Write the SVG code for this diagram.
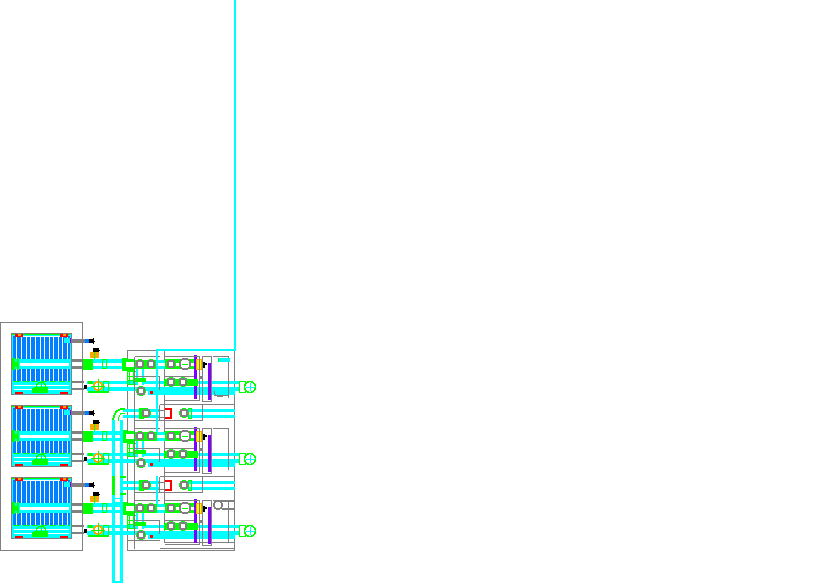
<svg xmlns="http://www.w3.org/2000/svg" width="824" height="583" viewBox="0 0 824 583" shape-rendering="crispEdges">
<style>
.g{fill:none;stroke:#808080;stroke-width:1}
.g2{fill:none;stroke:#808080;stroke-width:1}
.c{fill:#00ffff;stroke:none}
.cl{fill:none;stroke:#00ffff;stroke-width:2}
.gr{fill:#00ff00;stroke:none}
.gl{fill:none;stroke:#00ff00;stroke-width:1}
.w{fill:#fff;stroke:none}
.b{fill:#0080ff;stroke:none}
.p{fill:#7f00ff;stroke:none}
.k{fill:#000;stroke:none}
.r{fill:#ff0000;stroke:none}
</style>
<defs>
<g id="ringG"><circle r="5" fill="#00ff00"/><circle r="3.500" fill="#fff" stroke="#808080" stroke-width="2"/></g>
<g id="ringBig"><circle r="5.500" fill="#fff" stroke="#808080" stroke-width="2"/><path d="M-3 0H3" stroke="#00ff00"/></g>
<g id="ringO"><circle r="4" fill="#fff" stroke="#ffa500" stroke-width="2"/><path d="M0-7V7M-7 0H7" stroke="#00ff00" stroke-width="1" fill="none"/></g>
<g id="ringL"><circle r="4.500" fill="none" stroke="#00ff00" stroke-width="1.500"/><path d="M0-7V7M-7 0H7" stroke="#00ff00" stroke-width="1" fill="none"/></g>
<g id="end"><rect x="-10.500" y="-5.500" width="6" height="11" fill="#fff" stroke="#00ff00"/><circle r="5.500" fill="#fff" stroke="#00ff00" stroke-width="1.500"/><path d="M-4 0H5M0-4V4" stroke="#00ffff" stroke-width="1" fill="none"/></g>
<g id="radiator">
<rect x="11" y="333" width="61" height="62" fill="#00ffff"/>
<rect x="13" y="336" width="57" height="46" class="w"/>
<g class="b">
<rect x="13" y="336" width="3" height="46"/><rect x="17" y="336" width="4" height="46"/>
<rect x="22" y="337" width="4" height="45"/><rect x="27" y="337" width="3" height="45"/>
<rect x="31" y="337" width="4" height="45"/><rect x="36" y="337" width="4" height="45"/>
<rect x="41" y="337" width="3" height="45"/><rect x="45" y="337" width="4" height="45"/>
<rect x="50" y="337" width="3" height="45"/><rect x="54" y="337" width="4" height="45"/>
<rect x="59" y="337" width="3" height="45"/><rect x="63" y="336" width="4" height="46"/><rect x="68" y="336" width="2" height="46"/>
</g>
<rect x="12" y="359" width="59" height="10" class="c"/>
<rect x="20" y="363" width="49" height="3" class="w"/>
<rect x="12" y="381" width="59" height="13" class="c"/>
<path d="M14 385.500H69M14 389.500H69" stroke="#fff" stroke-width="1"/>
<path d="M14 381.500H70" stroke="#00ff00" stroke-dasharray="6 3"/>
<rect x="12" y="358" width="3" height="12" class="gr"/><rect x="17" y="358" width="2" height="12" class="gr"/><rect x="15" y="362" width="2" height="5" class="gr"/>
<rect x="32" y="388" width="16" height="5" class="gr"/><use href="#ringL" x="41" y="387"/>
<path d="M12 334H70" stroke="#00ff00" stroke-width="2"/>
<rect x="15" y="333" width="8" height="4" class="r"/><rect x="60" y="333" width="8" height="4" class="r"/>
<rect x="18" y="334" width="3" height="2" fill="#ffa500"/><rect x="63" y="334" width="3" height="2" fill="#ffa500"/>
<rect x="11.500" y="333.500" width="60" height="61" fill="none" stroke="#808080"/>
<rect x="15" y="392" width="8" height="2" class="r"/><rect x="60" y="392" width="8" height="2" class="r"/>
<rect x="64" y="338" width="6" height="5" class="c"/><rect x="70" y="338" width="1" height="5" class="p"/>
<rect x="71" y="339" width="14" height="4" fill="#808080"/>
<rect x="85" y="339" width="4" height="4" class="b"/><rect x="89" y="339" width="3" height="4" class="c"/>
<path d="M89 339h4v-1h1v3h1v1h-1v2h-1v-1h-4z" class="k"/>
<path d="M93 348h6v2h1v1h-1v1h-6z" class="k"/>
<rect x="90" y="352" width="9" height="6" fill="#ffa500"/><path d="M94.500 352V361" stroke="#00ff00"/>
<rect x="72" y="359" width="12" height="2.500" fill="#808080"/><rect x="72" y="366" width="12" height="2.500" fill="#808080"/>
<rect x="93" y="359" width="36" height="10" class="c"/><rect x="93" y="363" width="36" height="3" class="w"/>
<rect x="83" y="359" width="10" height="11" class="gr"/>
<rect x="102.500" y="359.500" width="4" height="9" class="gl"/><rect x="122.500" y="358.500" width="5" height="11" class="gl"/>
<rect x="72" y="381" width="12" height="1.500" fill="#808080"/><rect x="72" y="388" width="12" height="2" fill="#808080"/>
<rect x="83.500" y="385" width="3" height="4" class="k"/>
</g>
<g id="rowA">
<rect x="87" y="381" width="153" height="3" class="c"/><rect x="87" y="387" width="153" height="4" class="c"/>
<rect x="88" y="381" width="5" height="3" class="gr"/><rect x="88" y="391" width="20" height="2" class="gr"/>
<rect x="103.500" y="381.500" width="5" height="11" class="gl"/>
<use href="#ringO" x="98" y="386"/>
<rect x="148" y="390" width="87" height="5" class="c"/>
<rect x="122" y="360" width="78" height="9" class="c"/>
<rect x="122" y="363" width="78" height="3" class="w"/>
<rect x="122" y="359" width="12" height="12" class="gr"/><rect x="126" y="362" width="8" height="5" class="w"/>
<rect x="134" y="360" width="23" height="9" class="gr"/><rect x="165" y="359" width="33" height="10" class="gr"/>
<rect x="174" y="363" width="24" height="3" class="w"/>
<use href="#ringG" x="140" y="364"/><use href="#ringG" x="151" y="364"/><use href="#ringG" x="171" y="364"/><use href="#ringBig" x="185" y="364"/>
<rect x="127.500" y="371.500" width="9" height="13" class="gl"/><path d="M129.500 369V385M133.500 369V385M127 376.500H137M127 380.500H137" class="gl"/>
<rect x="136" y="369" width="8" height="16" class="c"/><rect x="138" y="369" width="4" height="16" class="w"/>
<rect x="134" y="378" width="12" height="4" class="gr"/>
<rect x="194" y="355" width="3" height="44" class="p"/>
<rect x="196.500" y="359.500" width="5" height="10" fill="#ff0" stroke="#ffa500"/>
<path d="M202 362h3v1h2v2h-2v3h-3z" class="k"/>
<rect x="208" y="363" width="3" height="37" class="p"/>
<rect x="200" y="376" width="3" height="3" fill="#808080"/>
<rect x="164" y="379" width="34" height="7" class="gr"/>
<use href="#ringG" x="171" y="382"/><use href="#ringG" x="183" y="382"/>
<use href="#end" x="250" y="387"/>
<use href="#ringG" x="141" y="391"/>
<rect x="150" y="391" width="3" height="3" class="r"/>
<path d="M134.500 356.500H160M134.500 356.500V404.500M159.500 376V390M164.500 356.500H199.500V400.500H164.500M202.500 356.500H211.500V401.500H202.500ZM212.500 356.500H228V397.500M134 376.500H160M164 376.500H194M160 404.500H235" class="g"/>
</g>
<g id="rowB">
<rect x="123" y="409" width="37" height="3" class="c"/><rect x="123" y="415" width="37" height="3" class="c"/>
<rect x="139" y="408" width="5" height="11" class="gr"/><use href="#ringG" x="146" y="413"/>
<path d="M157 410.500H165M157 417.500H165" class="g2"/>
<path d="M165 408h7v11h-7v-2h5v-7h-5z" class="r"/>
<use href="#ringG" x="184" y="413"/>
<rect x="189" y="409" width="46" height="3" class="c"/><rect x="189" y="415" width="46" height="3" class="c"/>
<rect x="188.500" y="408.500" width="3" height="10" class="gl"/>
<path d="M134.500 404.500V420.500H203M159.500 404.500V420.500M164.500 404.500V420.500M202.500 404.500V420.500" class="g"/>
</g>
</defs>
<rect x="0.500" y="322.500" width="82" height="228" class="g"/>
<g id="radiators">
<use id="radiator-1" href="#radiator"/>
<use id="radiator-2" href="#radiator" y="72"/>
<use id="radiator-3" href="#radiator" y="144"/>
</g>
<g id="plant">
<rect x="127.500" y="350.500" width="107" height="200" class="g"/>
<path d="M164.500 350V542M164 542.500H235M127 540.500H160M134.500 404V542" class="g"/>
<use id="row-1" href="#rowA"/>
<use id="row-2" href="#rowA" y="72"/>
<use id="row-3" href="#rowA" y="144"/>
<use id="branch-1" href="#rowB"/>
<use id="branch-2" href="#rowB" y="72"/>
<g id="valve-top">
<path d="M219 358h11v4h-11z" class="c"/><path d="M218.500 358v4" stroke="#00ff00"/>
<path d="M214 395.500H228M214 391a6 6 0 0 0 10 4" class="g"/>
</g>
<g id="valve-bottom">
<circle cx="218" cy="505" r="4" fill="#fff" stroke="#808080" stroke-width="2"/><rect x="222" y="500" width="12" height="2" fill="#808080"/><rect x="222" y="508" width="12" height="2" fill="#808080"/>
</g>
</g>
<g id="connectors">
<path d="M157 432V350H236" class="cl"/>
<rect x="234" y="0" width="2" height="349" class="c"/>
<path d="M157 476V504" class="cl"/>
<path d="M125 409H121Q114 411 113 421" fill="none" stroke="#00ff00" stroke-width="2"/>
<path d="M125 413H122Q119 414 118 421" class="gl"/>
<rect x="112" y="420" width="3" height="163" class="c"/>
<rect x="120" y="420" width="3" height="163" class="c"/>
<rect x="112" y="476" width="3" height="19" class="gr"/>
<rect x="120" y="476" width="6" height="2" class="gr"/><rect x="120" y="493" width="6" height="2" class="gr"/>
<path d="M112 498H123M112 502H123" stroke="#00ffff"/>
<path d="M112 582H123" stroke="#00ffff" stroke-width="1.500"/>
</g>
</svg>
